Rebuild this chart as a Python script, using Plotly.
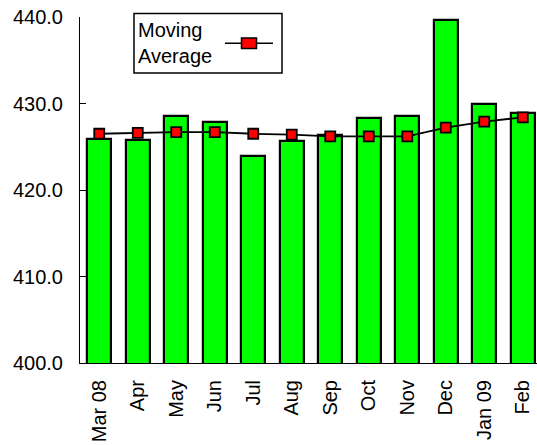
import plotly.graph_objects as go

# Monthly values and their moving average
months = ["Mar 08", "Apr", "May", "Jun", "Jul", "Aug", "Sep", "Oct", "Nov", "Dec", "Jan 09", "Feb"]
monthly = [425.9, 425.8, 428.5, 427.9, 423.9, 425.7, 426.4, 428.3, 428.5, 439.7, 430.0, 428.9]
moving_avg = [426.5, 426.6, 426.7, 426.7, 426.5, 426.4, 426.2, 426.2, 426.2, 427.2, 427.9, 428.4]
y_ticks = [400, 410, 420, 430, 440]

W, H = 537, 445
ML, MR, MT, MB = 80, 0, 17, 82
FONT = dict(family="Liberation Sans, Arial, sans-serif", size=20, color="black")


def px(x):
    """Pixel x -> paper fraction."""
    return (x - ML) / (W - ML - MR)


def py(y):
    """Pixel y -> paper fraction."""
    return (H - MB - y) / (H - MT - MB)


fig = go.Figure()
fig.add_trace(go.Bar(
    x=months, y=monthly, width=0.63,
    marker=dict(color="#00FF00", line=dict(color="black", width=2.2)),
    showlegend=False,
))
fig.add_trace(go.Scatter(
    x=months, y=moving_avg, mode="lines+markers",
    line=dict(color="black", width=1.8),
    marker=dict(symbol="square", size=10, color="#FF0000",
                line=dict(color="black", width=1.8)),
    showlegend=False,
))

# Legend box drawn by hand so the sample sits to the right of the label
shapes = [
    dict(type="rect", xref="paper", yref="paper",
         x0=px(134), x1=px(282), y0=py(73), y1=py(13.5),
         line=dict(color="black", width=1.5)),
    dict(type="line", xref="paper", yref="paper",
         x0=px(225), x1=px(273), y0=py(43.3), y1=py(43.3),
         line=dict(color="black", width=1.5)),
    dict(type="rect", xref="paper", yref="paper",
         x0=px(241.5), x1=px(256.5), y0=py(48.5), y1=py(38),
         fillcolor="#FF0000", line=dict(color="black", width=1.5)),
]
annotations = [
    dict(text="Moving<br>Average", xref="paper", yref="paper",
         x=px(136), y=py(43), xanchor="left", yanchor="middle",
         align="left", showarrow=False, font=FONT),
]

fig.update_layout(
    width=W, height=H,
    margin=dict(l=ML, r=MR, t=MT, b=MB),
    paper_bgcolor="white", plot_bgcolor="white",
    font=FONT, bargap=0,
    shapes=shapes, annotations=annotations,
)
fig.update_xaxes(
    type="category", range=[-0.5, 11.37],
    tickangle=-90, ticks="", showgrid=False,
    showline=True, linecolor="black", linewidth=1,
    tickfont=FONT, ticklabelstandoff=8,
)
fig.update_yaxes(
    range=[400, 440], tickvals=y_ticks, tickformat=".1f",
    ticks="inside", ticklen=6, tickcolor="black",
    showgrid=False, zeroline=False,
    showline=True, linecolor="black", linewidth=1,
    tickfont=FONT, ticklabelstandoff=12,
)

fig.write_html("out.html")
